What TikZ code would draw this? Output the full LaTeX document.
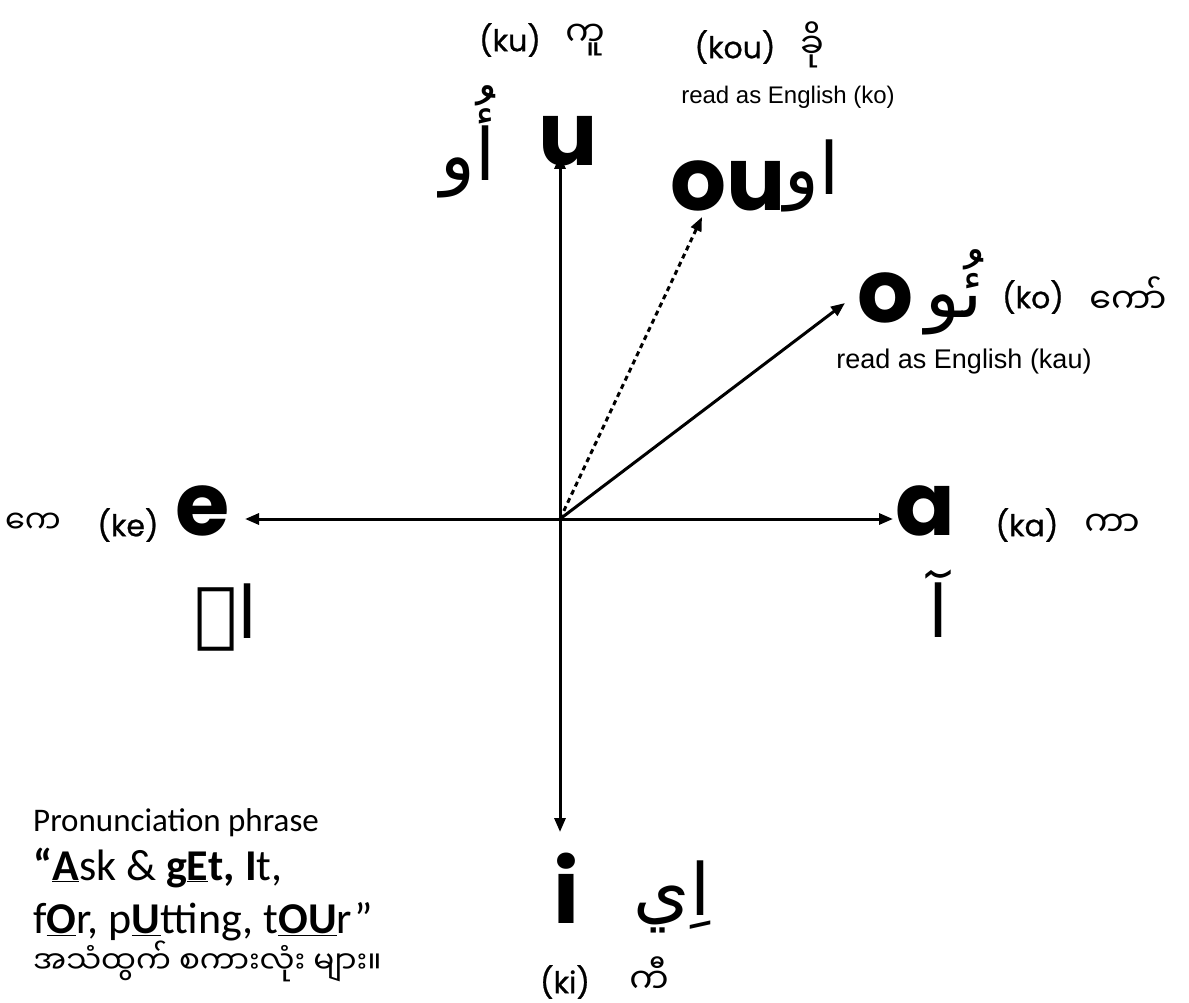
\documentclass[tikz,border=0pt]{standalone}
\usepackage{fontspec}
\setmainfont{Carlito}
\newfontfamily\popf{Poppins}
\newfontfamily\popm{Poppins}[FakeBold=0.8]
\newfontfamily\arialf{Liberation Sans}
\newfontfamily\mmf[Script=Myanmar]{Noto Sans Myanmar UI}
\newfontfamily\arf[Script=Arabic]{DejaVu Sans}
\TeXXeTstate=1
\usetikzlibrary{arrows.meta}
\newcommand\fsz[1]{\fontsize{#1}{#1}\selectfont}
\newcommand\uln[1]{\underline{#1}}
\begin{document}
\begin{tikzpicture}[x=1pt,y=-1pt,
  vowel/.style={font=\popf\bfseries\fsz{88}, inner sep=0},
  tag/.style={font=\popm\fsz{30}, inner sep=0},
  mmtag/.style={font=\mmf\fsz{35}, inner sep=0},
  artag/.style={font=\arf\fsz{72}, inner sep=0},
  note/.style={font=\arialf\fsz{24}, inner sep=0},
  phrase/.style={anchor=base west, inner sep=0},
  axis/.style={line width=3pt, {Triangle[length=14pt,width=11pt]}-{Triangle[length=14pt,width=11pt]}},
  vec/.style={line width=3pt, -{Triangle[length=14pt,width=11pt]}},
]
\useasboundingbox (0,0) rectangle (1189,1003);
\fill[white] (0,0) rectangle (1189,1003);

% axes and vectors
\coordinate (O) at (560,519);
\coordinate (T) at (560,155);
\coordinate (B) at (560,832);
\coordinate (L) at (245,519);
\coordinate (R) at (893,519);
\coordinate (P) at (845,303);
\coordinate (Q) at (702,217);
\draw[axis] (T) -- (B);
\draw[axis] (L) -- (R);
\draw[vec] (O) -- (P);
\draw[vec, dash pattern=on 5pt off 4pt] (O) -- (Q);

% vowels
\node[vowel] (u) at (568,141) {u};
\node[vowel] (ou) at (728,186) {ou};
\node[vowel] (o) at (886,298) {o};
\node[vowel] (e) at (203,511) {e};
\node[vowel] (a) at (925,511) {a};
\node[vowel] (i) at (566,888) {i};

% arabic
\node[artag] (arU) at (468,142) {\beginR أُو\endR};
\node[artag] (arOU) at (812,176) {\beginR او\endR};
\node[artag] (arO) at (954,292) {\beginR ئُو\endR};
\node[artag] (arE) at (226,618) {\beginR اے\endR};
\node[artag] (arA) at (938,604) {\beginR آ\endR};
\node[artag] (arI) at (672,897) {\beginR اِي\endR};

% romanised tags
\node[tag] (ku) at (510,40) {(ku)};
\node[tag] (kou) at (735,47) {(kou)};
\node[tag] (ko) at (1033,297) {(ko)};
\node[tag] (ke) at (128,525) {(ke)};
\node[tag] (ka) at (1027,525) {(ka)};
\node[tag] (ki) at (565,982) {(ki)};

% myanmar tags
\node[mmtag] (mku) at (585,40) {ကူ};
\node[mmtag] (mkou) at (812,45) {ခို};
\node[mmtag] (mko) at (1128,295) {ကော်};
\node[mmtag, font=\mmf\fsz{32}] (mke) at (33,523) {ကေ};
\node[mmtag] (mka) at (1112,525) {ကာ};
\node[mmtag] (mki) at (649,975) {ကီ};

% notes
\node[note] (nko) at (788,97) {read as English (ko)};
\node[note] (nkau) at (964,362) {\fsz{27}read as English (kau)};

% phrase block
\node[phrase, font=\fsz{33}] (ph1) at (33,831) {Pronunciation phrase};
\node[phrase, font=\fsz{44}] (ph2) at (33,880) {{\bfseries “\uln{A}}sk \& {\bfseries g\uln{E}t, I}t,};
\node[phrase, font=\fsz{44}] (ph3) at (33,933) {f{\bfseries\uln{O}}r, p{\bfseries\uln{U}}tting, t{\bfseries\uln{OU}}r”};
\node[phrase, font=\mmf\fsz{31}] (ph4) at (33,973) {အသံထွက်  စကားလုံး  များ။};
\end{tikzpicture}
\end{document}
